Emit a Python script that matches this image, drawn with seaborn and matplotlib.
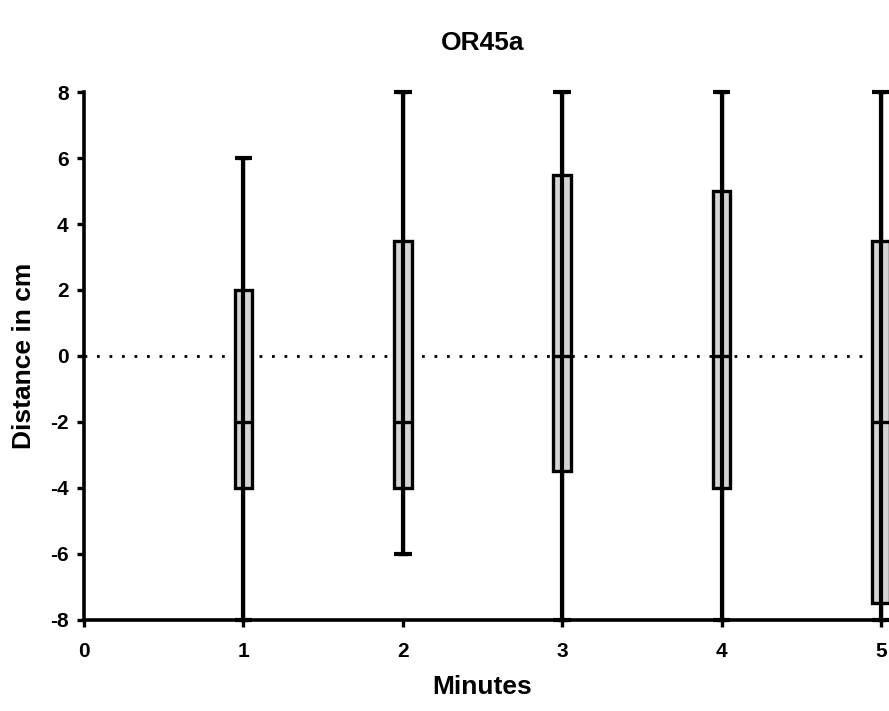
import numpy as np
import pandas as pd
import matplotlib
matplotlib.use("Agg")
import matplotlib.pyplot as plt
import seaborn as sns

minutes = [1, 2, 3, 4, 5]
mins = [-8, -6, -8, -8, -8]
q1s = [-4, -4, -3.5, -4, -7.5]
medians = [-2, -2, 0, 0, -2]
q3s = [2, 3.5, 5.5, 5, 3.5]
maxs = [6, 8, 8, 8, 8]
x_ticks = [0, 1, 2, 3, 4, 5]
y_ticks = [-8, -6, -4, -2, 0, 2, 4, 6, 8]

# five-number summaries as 5-point samples (quartiles land exactly on them)
rows = []
for m, a, b, c, d, e in zip(minutes, mins, q1s, medians, q3s, maxs):
    for v in (a, b, c, d, e):
        rows.append({"Minutes": m, "Distance": v})
df = pd.DataFrame(rows)

sns.set_theme(style="ticks")
plt.rcParams['font.family'] = ['Liberation Sans', 'DejaVu Sans']
for k in ["text.color", "axes.labelcolor", "xtick.color", "ytick.color", "axes.edgecolor"]:
    plt.rcParams[k] = "black"

fig = plt.figure(figsize=(8.89, 7.11), dpi=100)
ax = fig.add_axes([0.0945, 0.128, 0.991 - 0.0945, 0.8706 - 0.128])

lw = 2.4
box_w = 0.11
sns.boxplot(data=df, x="Minutes", y="Distance", native_scale=True, width=box_w,
            whis=(0, 100), color="#d4d4d4", saturation=1, fill=True,
            linecolor="black", linewidth=lw, ax=ax,
            medianprops=dict(color="black", linewidth=lw),
            capprops=dict(color="black", linewidth=lw))
ax.vlines(minutes, mins, maxs, colors="black", linewidth=3.0, zorder=5, clip_on=False)
ax.hlines(maxs, np.array(minutes) - box_w / 2, np.array(minutes) + box_w / 2,
          colors="black", linewidth=3.0, zorder=5, clip_on=False)
ax.hlines(mins, np.array(minutes) - box_w / 2, np.array(minutes) + box_w / 2,
          colors="black", linewidth=3.0, zorder=5, clip_on=False)

for art in list(ax.patches) + list(ax.lines) + list(ax.collections):
    art.set_clip_on(False)

ax.axhline(0, color="black", linestyle=(0, (1, 3.5)), linewidth=2.0, zorder=1)

ax.set_xlim(0, 5)
ax.set_ylim(-8, 8)
ax.set_xticks(x_ticks)
ax.set_yticks(y_ticks)
ax.set_xticklabels([str(t) for t in x_ticks], fontsize=15, fontweight="bold")
ax.set_yticklabels([str(t) for t in y_ticks], fontsize=15, fontweight="bold")
ax.tick_params(direction="out", length=5, width=2.4, color="black", pad=6)
ax.tick_params(axis="x", pad=11)
for s in ["left", "bottom"]:
    ax.spines[s].set_linewidth(2.6)
    ax.spines[s].set_color("black")
sns.despine(ax=ax)

ax.set_xlabel("Minutes", fontsize=19, fontweight="bold", labelpad=10)
ax.set_ylabel("Distance in cm", fontsize=19, fontweight="bold", labelpad=10)
ax.set_title("OR45a", fontsize=19, fontweight="bold", pad=30)

fig.savefig("out.png", dpi=100)
